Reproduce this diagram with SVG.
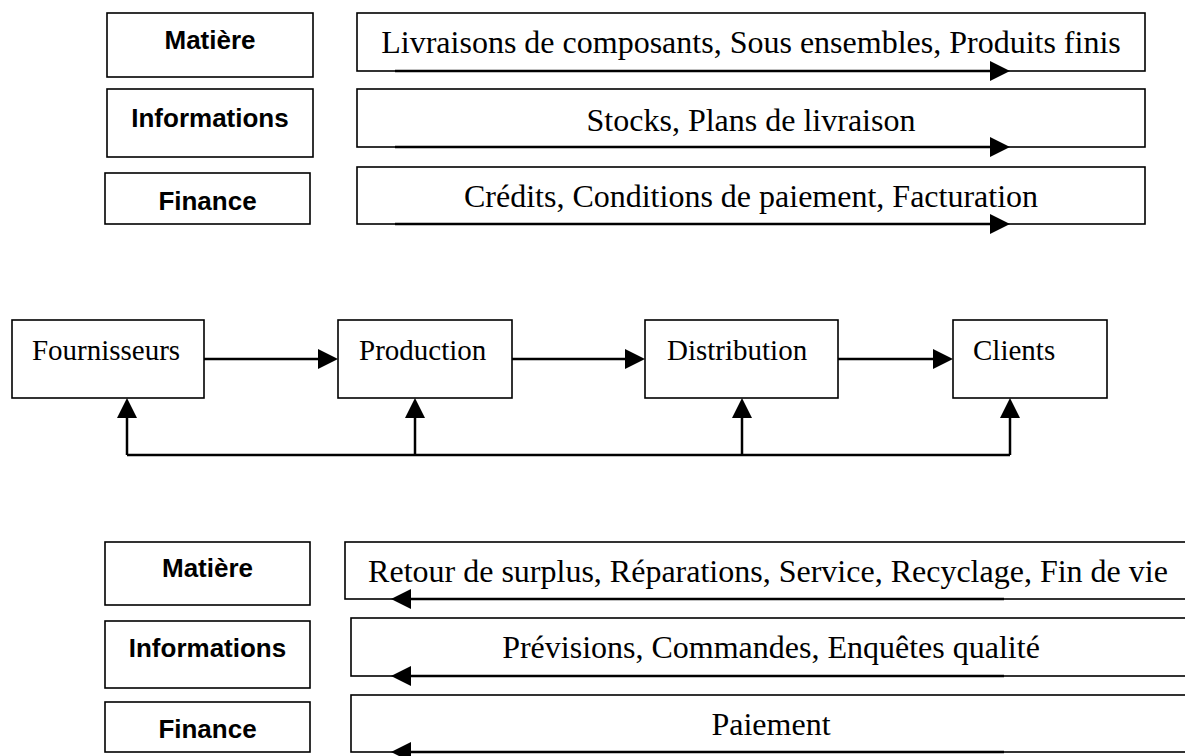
<svg xmlns="http://www.w3.org/2000/svg" width="1185" height="756" viewBox="0 0 1185 756">
<style>
.box{fill:#fff;stroke:#000;stroke-width:1.6}
.cat{font-family:"Liberation Sans",Arial,sans-serif;font-weight:bold;font-size:26px;text-anchor:middle;fill:#000}
.band{font-family:"Liberation Serif","Times New Roman",serif;font-size:32px;text-anchor:middle;fill:#000}
.node{font-family:"Liberation Serif","Times New Roman",serif;font-size:29px;fill:#000}
.conn{fill:none;stroke:#000;stroke-width:2.5}
</style>
<defs>
<marker id="arr" viewBox="0 0 20 20" refX="0" refY="10" markerWidth="20" markerHeight="20" markerUnits="userSpaceOnUse" orient="auto">
<path d="M0,0 L20,10 L0,20 Z" fill="#000"/>
</marker>
</defs>
<rect width="1185" height="756" fill="#fff"/>

<g id="top-matiere"><rect class="box" x="107" y="13" width="206" height="64"/><text class="cat" x="210" y="49">Matière</text></g>
<g id="top-informations"><rect class="box" x="107" y="89" width="206" height="68"/><text class="cat" x="210" y="127">Informations</text></g>
<g id="top-finance"><rect class="box" x="105" y="173" width="205" height="51"/><text class="cat" x="207.5" y="210">Finance</text></g>

<g id="top-band-matiere"><rect class="box" x="357" y="13" width="788" height="58"/><text class="band" x="751" y="53">Livraisons de composants, Sous ensembles, Produits finis</text></g>
<g id="top-band-informations"><rect class="box" x="357" y="89" width="788" height="58"/><text class="band" x="751" y="131">Stocks, Plans de livraison</text></g>
<g id="top-band-finance"><rect class="box" x="357" y="167" width="788" height="57"/><text class="band" x="751" y="207">Crédits, Conditions de paiement, Facturation</text></g>

<g id="fournisseurs"><rect class="box" x="12" y="320" width="192" height="78"/><text class="node" x="106" y="360" text-anchor="middle">Fournisseurs</text></g>
<g id="production"><rect class="box" x="338" y="320" width="174" height="78"/><text class="node" x="359" y="360">Production</text></g>
<g id="distribution"><rect class="box" x="645" y="320" width="193" height="78"/><text class="node" x="667" y="360">Distribution</text></g>
<g id="clients"><rect class="box" x="953" y="320" width="154" height="78"/><text class="node" x="973" y="360">Clients</text></g>

<g id="bottom-matiere"><rect class="box" x="105" y="542" width="205" height="63"/><text class="cat" x="207.5" y="577">Matière</text></g>
<g id="bottom-informations"><rect class="box" x="105" y="621" width="205" height="67"/><text class="cat" x="207.5" y="657">Informations</text></g>
<g id="bottom-finance"><rect class="box" x="105" y="702" width="205" height="50"/><text class="cat" x="207.5" y="738">Finance</text></g>

<g id="bottom-band-matiere"><rect class="box" x="345" y="542" width="846" height="57"/><text class="band" x="768" y="582">Retour de surplus, Réparations, Service, Recyclage, Fin de vie</text></g>
<g id="bottom-band-informations"><rect class="box" x="351" y="618" width="840" height="58"/><text class="band" x="771" y="658">Prévisions, Commandes, Enquêtes qualité</text></g>
<g id="bottom-band-finance"><rect class="box" x="351" y="695" width="840" height="57"/><text class="band" x="771" y="735">Paiement</text></g>

<g id="connectors">
<path class="conn" d="M395,71 H990" marker-end="url(#arr)"/>
<path class="conn" d="M395,147 H990" marker-end="url(#arr)"/>
<path class="conn" d="M395,224 H990" marker-end="url(#arr)"/>
<path class="conn" d="M204,359 H318" marker-end="url(#arr)"/>
<path class="conn" d="M512,359 H625" marker-end="url(#arr)"/>
<path class="conn" d="M838,359 H933" marker-end="url(#arr)"/>
<path class="conn" d="M127,455 H1010"/>
<path class="conn" d="M127,455 V418" marker-end="url(#arr)"/>
<path class="conn" d="M415,455 V418" marker-end="url(#arr)"/>
<path class="conn" d="M742,455 V418" marker-end="url(#arr)"/>
<path class="conn" d="M1010,455 V418" marker-end="url(#arr)"/>
<path class="conn" d="M1004,599 H411" marker-end="url(#arr)"/>
<path class="conn" d="M1004,676 H411" marker-end="url(#arr)"/>
<path class="conn" d="M1004,752 H411" marker-end="url(#arr)"/>
</g>
</svg>
